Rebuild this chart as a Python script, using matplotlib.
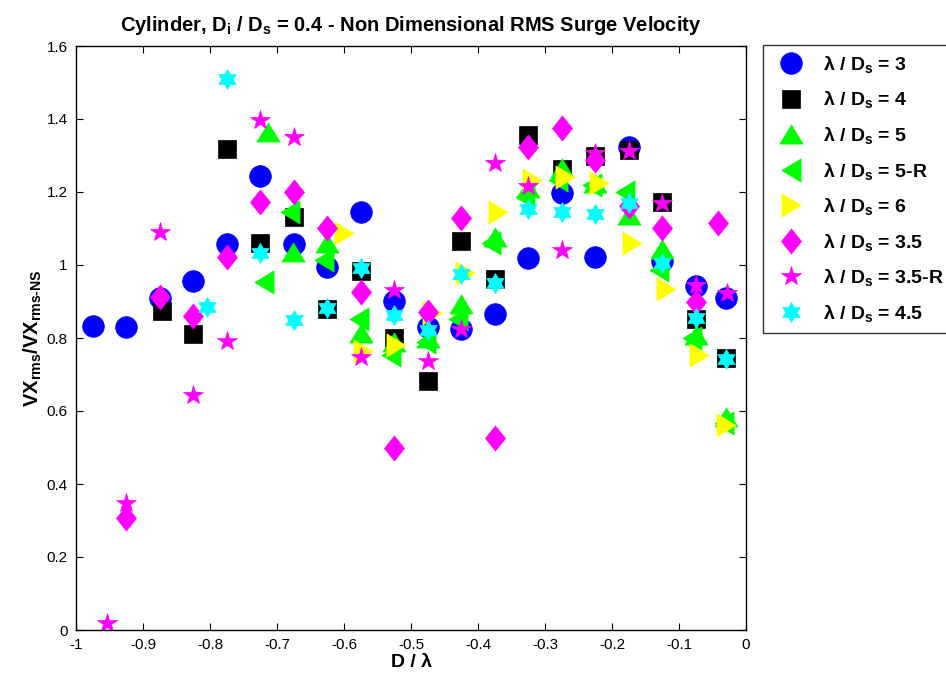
import numpy as np
import matplotlib
matplotlib.use("Agg")
import matplotlib.pyplot as plt
from matplotlib.path import Path

plt.rcParams['font.family'] = ['Liberation Sans', 'DejaVu Sans']
plt.rcParams['mathtext.fontset'] = 'custom'
plt.rcParams['mathtext.rm'] = 'Liberation Sans:bold'
plt.rcParams['mathtext.default'] = 'regular'

# ---- data: D/lambda vs non-dimensional RMS surge velocity ----
x_3 = [-0.975, -0.925, -0.875, -0.825, -0.775, -0.725, -0.675, -0.625, -0.575, -0.525,
       -0.475, -0.425, -0.375, -0.325, -0.275, -0.225, -0.175, -0.125, -0.075, -0.03]
y_3 = [0.833, 0.830, 0.910, 0.956, 1.057, 1.244, 1.057, 0.994, 1.145, 0.902,
       0.830, 0.825, 0.866, 1.018, 1.196, 1.021, 1.324, 1.011, 0.942, 0.909]

x_4 = [-0.872, -0.825, -0.775, -0.725, -0.675, -0.625, -0.575, -0.525, -0.475, -0.425,
       -0.375, -0.325, -0.275, -0.225, -0.175, -0.125, -0.075, -0.03]
y_4 = [0.875, 0.811, 1.318, 1.059, 1.132, 0.879, 0.984, 0.799, 0.681, 1.067,
       0.961, 1.356, 1.264, 1.299, 1.315, 1.172, 0.851, 0.746]

x_5 = [-0.713, -0.676, -0.625, -0.575, -0.525, -0.475, -0.425, -0.375, -0.325, -0.275,
       -0.225, -0.175, -0.125, -0.075, -0.03]
y_5 = [1.364, 1.036, 1.060, 0.813, 0.790, 0.800, 0.894, 1.078, 1.210, 1.265,
       1.225, 1.137, 1.045, 0.808, 0.584]

x_5r = [-0.72, -0.68, -0.63, -0.578, -0.53, -0.478, -0.43, -0.38, -0.33, -0.28,
        -0.23, -0.18, -0.13, -0.08, -0.033]
y_5r = [0.954, 1.146, 1.014, 0.851, 0.753, 0.790, 0.852, 1.060, 1.187, 1.233,
        1.219, 1.201, 0.985, 0.799, 0.566]

x_6 = [-0.60, -0.572, -0.522, -0.468, -0.42, -0.37, -0.32, -0.27, -0.22, -0.17,
       -0.12, -0.07, -0.03]
y_6 = [1.087, 0.765, 0.781, 0.868, 0.977, 1.146, 1.233, 1.242, 1.224, 1.059,
       0.933, 0.753, 0.562]

x_35 = [-0.925, -0.875, -0.825, -0.775, -0.725, -0.675, -0.625, -0.575, -0.525, -0.475,
        -0.425, -0.375, -0.325, -0.275, -0.225, -0.175, -0.125, -0.075, -0.042]
y_35 = [0.306, 0.911, 0.861, 1.023, 1.172, 1.199, 1.100, 0.927, 0.500, 0.872,
        1.128, 0.527, 1.322, 1.374, 1.288, 1.163, 1.100, 0.900, 1.114]

x_35r = [-0.953, -0.925, -0.875, -0.825, -0.775, -0.725, -0.675, -0.575, -0.525, -0.475,
         -0.425, -0.375, -0.325, -0.275, -0.225, -0.175, -0.125, -0.075, -0.028]
y_35r = [0.020, 0.347, 1.090, 0.644, 0.793, 1.397, 1.352, 0.749, 0.932, 0.738,
         0.826, 1.280, 1.216, 1.041, 1.306, 1.311, 1.169, 0.945, 0.922]

x_45 = [-0.805, -0.775, -0.725, -0.675, -0.625, -0.575, -0.525, -0.475, -0.425, -0.375,
        -0.325, -0.275, -0.225, -0.175, -0.125, -0.075, -0.03]
y_45 = [0.886, 1.510, 1.034, 0.849, 0.881, 0.991, 0.863, 0.822, 0.974, 0.950,
        1.153, 1.146, 1.140, 1.169, 1.005, 0.854, 0.742]

labels = ['3', '4', '5', '5-R', '6', '3.5', '3.5-R', '4.5']

# ---- marker shapes ----
tri_up = Path([(0, 0.83), (-1, -0.83), (1, -0.83), (0, 0.83)], closed=True)
tri_left = Path([(-0.83, 0), (0.83, 1), (0.83, -1), (-0.83, 0)], closed=True)
tri_right = Path([(0.83, 0), (-0.83, 1), (-0.83, -1), (0.83, 0)], closed=True)
diamond = Path([(0, 1), (0.8, 0), (0, -1), (-0.8, 0), (0, 1)], closed=True)
hexagram = Path.unit_regular_star(6, 1 / np.sqrt(3))

series = [
    (x_3, y_3, 'o', (0, 0, 1), 15.6),
    (x_4, y_4, 's', (0, 0, 0), 13.2),
    (x_5, y_5, tri_up, (0, 1, 0), 16.6),
    (x_5r, y_5r, tri_left, (0, 1, 0), 16.6),
    (x_6, y_6, tri_right, (1, 1, 0), 16.6),
    (x_35, y_35, diamond, (1, 0, 1), 18.0),
    (x_35r, y_35r, '*', (1, 0, 1), 14.6),
    (x_45, y_45, hexagram, (0, 1, 1), 14.4),
]

fig = plt.figure(figsize=(9.46, 6.81), dpi=100)
ax = fig.add_axes([76 / 946, 51 / 681, 670 / 946, 584 / 681])

handles = []
for (xs, ys, mk, col, ms), lab in zip(series, labels):
    h, = ax.plot(xs, ys, linestyle='none', marker=mk, markersize=ms,
                 markerfacecolor=col, markeredgecolor=col, markeredgewidth=0.5,
                 label='λ / D$_s$ = ' + lab)
    handles.append(h)

ax.set_xlim(-1, 0)
ax.set_ylim(0, 1.6)
ax.set_xticks(np.arange(-1, 0.01, 0.1))
ax.set_xticklabels(['-1', '-0.9', '-0.8', '-0.7', '-0.6', '-0.5', '-0.4', '-0.3', '-0.2', '-0.1', '0'])
ax.set_yticks(np.arange(0, 1.61, 0.2))
ax.set_yticklabels(['0', '0.2', '0.4', '0.6', '0.8', '1', '1.2', '1.4', '1.6'])
ax.tick_params(direction='in', top=True, right=True, length=5, width=0.8,
               labelsize=11, pad=6)
for sp in ax.spines.values():
    sp.set_linewidth(1.0)

ax.set_title('Cylinder, D$_i$ / D$_s$ = 0.4 - Non Dimensional RMS Surge Velocity',
             fontsize=14.5, fontweight='bold', pad=11)
ax.set_xlabel('D / λ', fontsize=14, fontweight='bold', labelpad=1)
ax.set_ylabel(r'VX$_{rms}$/VX$_{\text{rms-NS}}$', fontsize=14.5, fontweight='bold', labelpad=2)

leg = fig.legend(handles=handles, loc='upper left',
                 bbox_to_anchor=(763 / 946, 1 - 45 / 681),
                 frameon=True, fancybox=False, edgecolor='black',
                 prop={'weight': 'bold', 'size': 14},
                 labelspacing=0.75, handletextpad=0.65, borderpad=0.45,
                 handlelength=2.0, borderaxespad=0)
leg.get_frame().set_linewidth(1.0)

fig.savefig('out.png', dpi=100)
